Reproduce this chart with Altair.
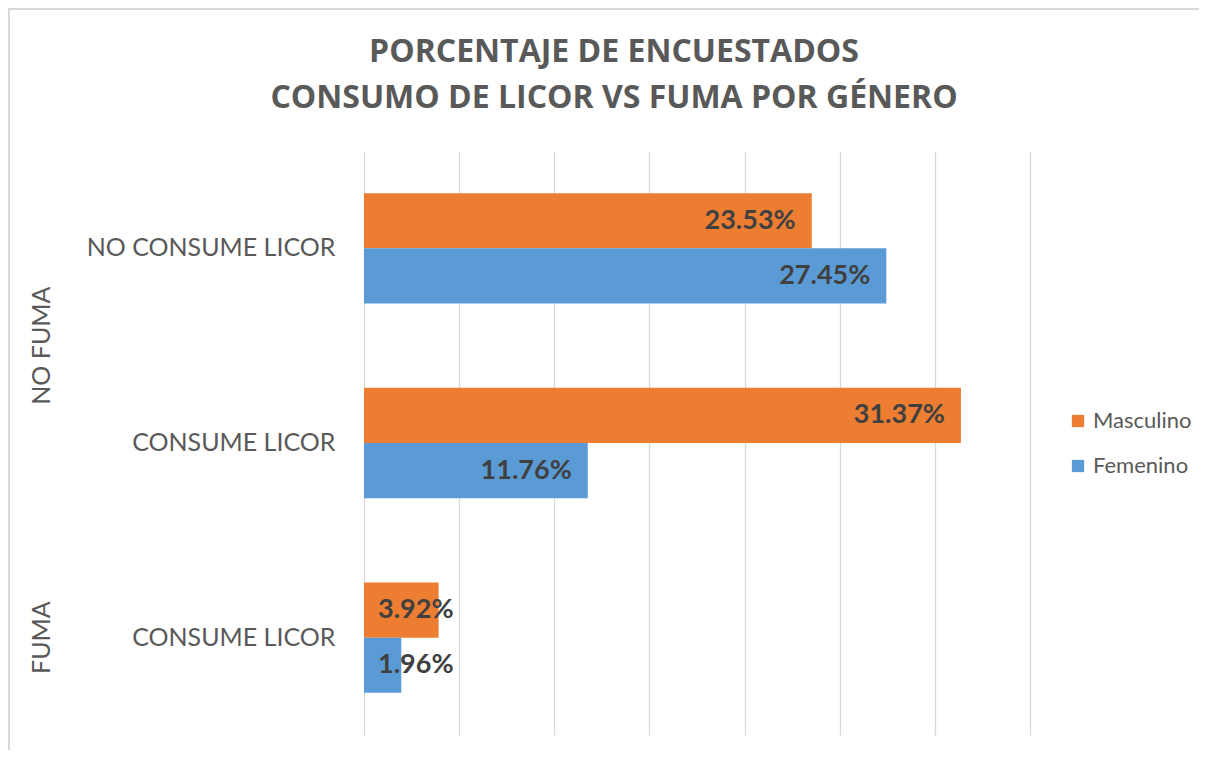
import altair as alt
import pandas as pd

groups = ["NO FUMA", "NO FUMA", "FUMA"]
subcats = ["NO CONSUME LICOR", "CONSUME LICOR", "CONSUME LICOR"]
masculino = [23.53, 31.37, 3.92]
femenino = [27.45, 11.76, 1.96]
genders = ["Masculino", "Femenino"]
colors = ["#ED7D31", "#5B9BD5"]
title_lines = ["PORCENTAJE DE ENCUESTADOS", "CONSUMO DE LICOR VS FUMA POR GÉNERO"]

keys = [g + "|" + s for g, s in zip(groups, subcats)]
rows = []
for k, m, f in zip(keys, masculino, femenino):
    rows.append({"key": k, "gender": "Masculino", "value": m})
    rows.append({"key": k, "gender": "Femenino", "value": f})
df = pd.DataFrame(rows)

# group label positions (in category-step units) from the group membership
grp_rows = []
for g in dict.fromkeys(groups):
    idx = [i for i, gg in enumerate(groups) if gg == g]
    grp_rows.append({"group": g, "pos": sum(i + 0.5 for i in idx) / len(idx)})
gdf = pd.DataFrame(grp_rows)

W, H = 666, 584
PAD_IN, PAD_OUT = 0.433, 0.2165
FONT = "Lato"
TFONT = "Open Sans"
GRAY = "#595959"

yscale = alt.Scale(domain=keys, paddingInner=PAD_IN, paddingOuter=PAD_OUT)
xscale = alt.Scale(domain=[0, 35], nice=False)

y_enc = alt.Y("key:N", scale=yscale, sort=keys,
              axis=alt.Axis(title=None, domain=False, ticks=False,
                            labelExpr="split(datum.value, '|')[1]",
                            labelFont=FONT, labelFontSize=25, labelColor=GRAY,
                            labelPadding=29, labelLimit=0, grid=False))
x_enc = alt.X("value:Q", scale=xscale,
              axis=alt.Axis(title=None, labels=False, ticks=False, domain=False,
                            values=[0, 5, 10, 15, 20, 25, 30, 35],
                            grid=True, gridColor="#D9D9D9", gridWidth=1.3))
yoff = alt.YOffset("gender:N", sort=genders, scale=alt.Scale(paddingInner=0))

base = alt.Chart(df)

bars = base.mark_bar().encode(
    y=y_enc, x=x_enc, yOffset=yoff,
    color=alt.Color("gender:N", sort=genders,
                    scale=alt.Scale(domain=genders, range=colors),
                    legend=alt.Legend(title=None, orient="none", legendX=703, legendY=259,
                                      symbolType="square", symbolSize=150,
                                      symbolStrokeWidth=0,
                                      labelFont=FONT, labelFontSize=22,
                                      labelColor=GRAY, rowPadding=23, labelOffset=4)),
)

lab = base.transform_calculate(label="format(datum.value, '.2f') + '%'")
big = lab.transform_filter("datum.value > 10").mark_text(
    align="right", baseline="middle", dx=-16, font=FONT, fontSize=27,
    fontWeight="bold", color="#404040").encode(
    y=alt.Y("key:N", scale=yscale, sort=keys), yOffset=yoff,
    x=alt.X("value:Q", scale=xscale), text="label:N")
small = lab.transform_filter("datum.value <= 10").mark_text(
    align="left", baseline="middle", dx=14, font=FONT, fontSize=27,
    fontWeight="bold", color="#404040").encode(
    y=alt.Y("key:N", scale=yscale, sort=keys), yOffset=yoff,
    x=alt.value(0), text="label:N")

grp = alt.Chart(gdf).mark_text(
    angle=270, align="center", baseline="middle", font=FONT, fontSize=25,
    color=GRAY).encode(
    y=alt.Y("pos:Q", scale=alt.Scale(domain=[0, len(keys)], reverse=True, nice=False), axis=None),
    x=alt.value(-322), text="group:N")

title1 = alt.Chart(alt.Data(values=[{"t": title_lines[0]}])).mark_text(
    align="center", baseline="middle", font=TFONT, fontSize=32, fontWeight="bold",
    color=GRAY).encode(x=alt.value(250), y=alt.value(-99), text="t:N")
title2 = alt.Chart(alt.Data(values=[{"t": title_lines[1]}])).mark_text(
    align="center", baseline="middle", font=TFONT, fontSize=32, fontWeight="bold",
    color=GRAY).encode(x=alt.value(250), y=alt.value(-53), text="t:N")

border = alt.Chart(alt.Data(values=[{}])).mark_rule(color="#D9D9D9", strokeWidth=2).encode(
    x=alt.value(-355), y=alt.value(-143), y2=alt.value(H + 20))
border2 = alt.Chart(alt.Data(values=[{}])).mark_rule(color="#D9D9D9", strokeWidth=2).encode(
    x=alt.value(-356), x2=alt.value(W + 200), y=alt.value(-142))

main = alt.layer(bars, big, small)
chart = alt.layer(main, grp, title1, title2, border, border2).resolve_scale(y="independent").properties(
    width=W, height=H,
    autosize=alt.AutoSizeParams(type="none"),
    padding={"left": 356, "top": 143, "right": 169, "bottom": 15},
).configure_view(stroke=None)

chart.save("out.html", embed_options={"renderer": "svg", "actions": False})
